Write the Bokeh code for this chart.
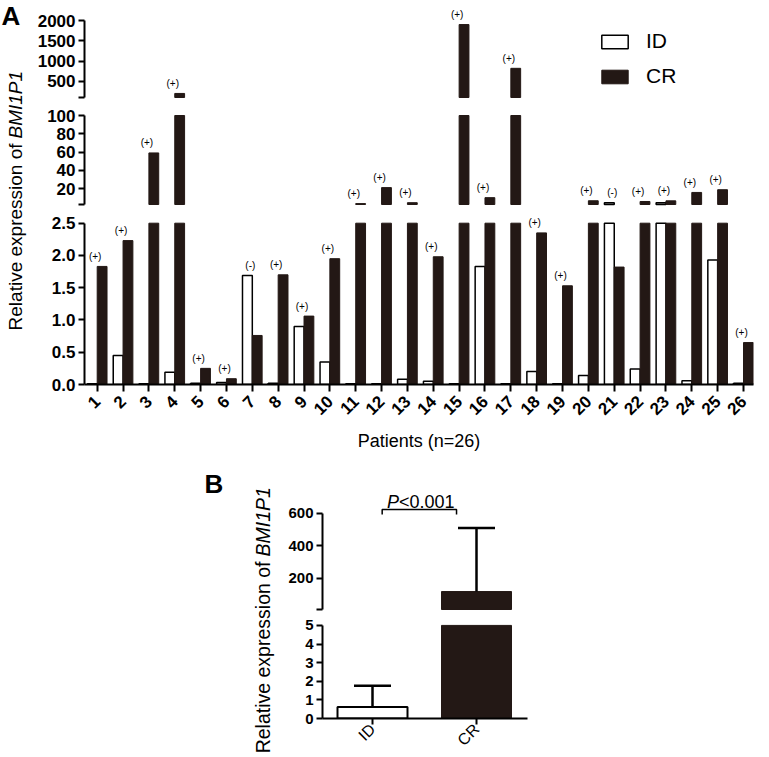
import math
import numpy as np
from bokeh.plotting import figure
from bokeh.layouts import column, row
from bokeh.models import (Range1d, FixedTicker, ColumnDataSource, Label, Legend,
                          LegendItem, Spacer, PrintfTickFormatter)
from bokeh.core.properties import value
from bokeh.embed import file_html
from bokeh.resources import INLINE

# ---------------- data ----------------
patients = list(range(1, 27))
id_expr = [0.01, 0.45, 0.01, 0.19, 0.02, 0.03, 1.69, 0.02, 0.90, 0.35,
           0.01, 0.01, 0.08, 0.05, 0.01, 1.83, 0.01, 0.20, 0.01, 0.14,
           4.3, 0.24, 4.3, 0.06, 1.93, 0.02]
cr_expr = [1.83, 2.23, 59, 200, 0.25, 0.09, 0.76, 1.70, 1.06, 1.95,
           3.5, 21, 4.5, 1.98, 1900, 10, 820, 2.35, 1.53, 6.6,
           1.82, 5.8, 6.5, 15.7, 18.7, 0.65]
marks = ["(+)", "(+)", "(+)", "(+)", "(+)", "(+)", "(-)", "(+)", "(+)", "(+)",
         "(+)", "(+)", "(+)", "(+)", "(+)", "(+)", "(+)", "(+)", "(+)", "(+)",
         "(-)", "(+)", "(+)", "(+)", "(+)", "(+)"]
series_names = ["ID", "CR"]

# axis segments of panel A (broken axis)
a_top_ticks = [100, 500, 1000, 1500, 2000]
a_mid_ticks = [2.5, 20, 40, 60, 80, 100]
a_bot_ticks = [0, 0.5, 1.0, 1.5, 2.0, 2.5]

# panel B
groups = ["ID", "CR"]
group_x = [1, 2]
group_mean = [0.62, 120]
group_upper = [1.76, 510]
b_top_ticks = [10, 200, 400, 600]
b_bot_ticks = [0, 1, 2, 3, 4, 5]

FONT = "Liberation Sans"
DARK = "#231815"


def yrange(v1, py1, v2, py2, top, bottom):
    s = (v2 - v1) / (py1 - py2)
    return Range1d(start=v1 - (bottom - py1) * s, end=v1 + (py1 - top) * s)


def base_fig(width, height, x_range, y_range, mbl, mbr, mbb, with_x):
    kw = dict(width=width, height=height, x_range=x_range, y_range=y_range,
              output_backend="svg", toolbar_location=None, title=None,
              min_border_left=mbl, min_border_right=mbr, min_border_top=0,
              min_border_bottom=mbb)
    if not with_x:
        kw["x_axis_type"] = None
    p = figure(**kw)
    p.grid.visible = False
    p.outline_line_color = None
    p.background_fill_color = "white"
    p.border_fill_color = "white"
    return p


def style_yaxis(p, bounds, ticks, blank, size, fmt=None):
    ax = p.yaxis[0]
    ax.bounds = bounds
    ax.ticker = FixedTicker(ticks=ticks, minor_ticks=[])
    if blank is not None:
        ax.major_label_overrides = {blank: ""}
    if fmt is not None:
        ax.formatter = fmt
    ax.axis_line_width = 2
    ax.axis_line_color = "black"
    ax.major_tick_line_width = 2
    ax.major_tick_line_color = "black"
    ax.major_tick_out = 6
    ax.major_tick_in = 0
    ax.minor_tick_line_color = None
    ax.major_label_text_font = FONT
    ax.major_label_text_font_size = size
    ax.major_label_text_font_style = "bold"
    ax.major_label_text_color = "black"
    ax.major_label_standoff = 3


def style_xaxis(ax, size, style, standoff, tick_out):
    ax.major_label_orientation = math.pi / 4
    ax.major_label_text_font = FONT
    ax.major_label_text_font_size = size
    ax.major_label_text_font_style = style
    ax.major_label_text_color = "black"
    ax.major_label_standoff = standoff
    ax.major_tick_out = tick_out
    ax.major_tick_in = 0
    ax.major_tick_line_width = 2
    ax.major_tick_line_color = "black"
    ax.axis_line_width = 2
    ax.axis_line_color = "black"
    ax.minor_tick_line_color = None


def seg_bars(p, x, v, lo, hi, width, **kw):
    # bars of one axis segment: values below the segment are left undrawn (NaN)
    top = np.where(v > lo, np.minimum(v, hi), np.nan)
    src = ColumnDataSource(dict(x=x, top=top, bottom=np.full(len(v), float(lo))))
    return p.vbar(x="x", top="top", bottom="bottom", width=width, source=src, **kw)


# ---------------- panel A ----------------
px = np.array(patients, dtype=float)
idv = np.array(id_expr, dtype=float)
crv = np.array(cr_expr, dtype=float)
hmax = np.maximum(idv, crv)
mk = np.array(marks)

A_LW = 32          # label strip width
A_MBL = 52         # left border of main figs -> frame at x 84
A_W = 728
x_a = Range1d(start=1 - (96.7 - 84) / 25.852, end=26 + (753 - 743) / 25.852)
BW = 0.38
DODGE = 0.19

topA = base_fig(A_W, 105, x_a, yrange(100, 97, 2000, 20, 0, 105), A_MBL, 7, 0, False)
midA = base_fig(A_W, 108, x_a, yrange(2.5, 204, 100, 115, 105, 213), A_MBL, 7, 0, False)
botA = base_fig(A_W, 242, x_a, yrange(0, 384, 2.5, 222.7, 213, 384), A_MBL, 7, 71, True)

style_yaxis(topA, (100, 2000), a_top_ticks, 100, "17px")
style_yaxis(midA, (2.5, 100), a_mid_ticks, 2.5, "17px")
style_yaxis(botA, (0, 2.5), a_bot_ticks, None, "17px", PrintfTickFormatter(format="%.1f"))

segsA = [(topA, 100, 2000), (midA, 2.5, 100), (botA, 0, 2.5)]
rend = {}
for p, lo, hi in segsA:
    r_id = seg_bars(p, px - DODGE, idv, lo, hi, BW, fill_color="white",
                    line_color="black", line_width=1.5)
    r_cr = seg_bars(p, px + DODGE, crv, lo, hi, BW, fill_color=DARK,
                    line_color=DARK, line_width=1)
    rend[p] = (r_id, r_cr)
    m = (hmax > lo) & (hmax <= hi)
    src = ColumnDataSource(dict(x=px[m], y=hmax[m], t=mk[m]))
    p.text(x="x", y="y", text="t", source=src, text_align="center",
           text_baseline="middle", x_offset=-2, y_offset=-10,
           text_font=value(FONT), text_font_size="10px", text_color="black")

xa = botA.xaxis[0]
xa.ticker = FixedTicker(ticks=patients, minor_ticks=[])
style_xaxis(xa, "17px", "bold", 7, 7)
xa.axis_label = "Patients (n=26)"
xa.axis_label_text_font = FONT
xa.axis_label_text_font_size = "18px"
xa.axis_label_text_font_style = "normal"
xa.axis_label_text_color = "black"
xa.axis_label_standoff = 8

legend = Legend(items=[LegendItem(label=series_names[0], renderers=[rend[topA][0]]),
                       LegendItem(label=series_names[1], renderers=[rend[topA][1]])],
                location=(514, 17), orientation="vertical", border_line_color=None,
                background_fill_alpha=0, padding=0, margin=0, spacing=11,
                glyph_width=33, glyph_height=17, label_height=17, label_standoff=15,
                label_text_font=FONT, label_text_font_size="21px",
                label_text_color="black")
topA.add_layout(legend)

labA = figure(width=A_LW, height=455, x_range=Range1d(0, 1), y_range=Range1d(0, 1),
              x_axis_type=None, y_axis_type=None, output_backend="svg",
              toolbar_location=None, title=None, min_border=0)
labA.outline_line_color = None
labA.grid.visible = False
labA.add_layout(Label(x=1, y=455, x_units="screen", y_units="screen", text="A",
                      text_font=FONT, text_font_size="26px", text_font_style="bold",
                      text_align="left", text_baseline="top", text_color="black"))
labA.add_layout(Label(x=15, y=312, x_units="screen", y_units="screen",
                      text="Relative expression of", angle=math.pi / 2,
                      text_font=FONT, text_font_size="19px", text_align="right",
                      text_baseline="middle", text_color="black"))
labA.add_layout(Label(x=15, y=317, x_units="screen", y_units="screen",
                      text="BMI1P1", angle=math.pi / 2, text_font=FONT,
                      text_font_size="19px", text_font_style="italic",
                      text_align="left", text_baseline="middle", text_color="black"))

rowA = row(labA, column(topA, midA, botA))

# ---------------- panel B ----------------
gx = np.array(group_x, dtype=float)
gm = np.array(group_mean, dtype=float)
gu = np.array(group_upper, dtype=float)

B_W = 252
x_b = Range1d(start=1 - (372 - 322) / 104, end=2 + (527 - 476) / 104)
BWB = 70 / 104

topB = base_fig(B_W, 162, x_b, yrange(10, 609, 600, 512.7, 455, 617), 42, 5, 0, False)
botB = base_fig(B_W, 140, x_b, yrange(0, 719, 5, 625, 617, 719), 42, 5, 38, True)
style_yaxis(topB, (10, 600), b_top_ticks, 10, "15px")
style_yaxis(botB, (0, 5), b_bot_ticks, None, "15px")

for p, lo, hi in [(topB, 10, 600), (botB, 0, 5)]:
    seg_bars(p, gx[:1], gm[:1], lo, hi, BWB, fill_color="white", line_color="black", line_width=2)
    seg_bars(p, gx[1:], gm[1:], lo, hi, BWB, fill_color=DARK, line_color=DARK, line_width=1)
    m = (gu > lo) & (gm < hi)
    p.segment(x0=gx[m], y0=np.maximum(gm[m], lo), x1=gx[m], y1=np.minimum(gu[m], hi),
              line_color="black", line_width=2.5)
    m2 = (gu >= lo) & (gu <= hi)
    p.scatter(x=gx[m2], y=gu[m2], marker="dash", size=37, line_color="black",
              line_width=2.5)

# significance bracket and p-value
topB.line(x=[1.093, 1.093, 1.808, 1.808], y=[592, 622.7, 622.7, 592],
          line_color="black", line_width=1.5)
topB.text(x=[1.255], y=[667], text=["P"], text_align="right", text_baseline="alphabetic",
          text_font=value(FONT), text_font_size="18px", text_font_style="italic",
          text_color="black")
topB.text(x=[1.255], y=[667], text=["<0.001"], text_align="left", text_baseline="alphabetic",
          text_font=value(FONT), text_font_size="18px", text_color="black")

xb = botB.xaxis[0]
xb.ticker = FixedTicker(ticks=group_x, minor_ticks=[])
xb.major_label_overrides = {gx_i: g for gx_i, g in zip(group_x, groups)}
style_xaxis(xb, "16px", "normal", 2, 6)

labB = figure(width=85, height=302, x_range=Range1d(0, 1), y_range=Range1d(0, 1),
              x_axis_type=None, y_axis_type=None, output_backend="svg",
              toolbar_location=None, title=None, min_border=0)
labB.outline_line_color = None
labB.grid.visible = False
labB.add_layout(Label(x=9, y=289, x_units="screen", y_units="screen", text="B",
                      text_font=FONT, text_font_size="26px", text_font_style="bold",
                      text_align="left", text_baseline="top", text_color="black"))
labB.add_layout(Label(x=67, y=196, x_units="screen", y_units="screen",
                      text="Relative expression of", angle=math.pi / 2,
                      text_font=FONT, text_font_size="19.5px", text_align="right",
                      text_baseline="middle", text_color="black"))
labB.add_layout(Label(x=67, y=201, x_units="screen", y_units="screen",
                      text="BMI1P1", angle=math.pi / 2, text_font=FONT,
                      text_font_size="19.5px", text_font_style="italic",
                      text_align="left", text_baseline="middle", text_color="black"))

rowB = row(Spacer(width=195, height=302), labB, column(topB, botB))

layout = column(rowA, rowB)
open("out.html", "w").write(file_html(layout, INLINE))
